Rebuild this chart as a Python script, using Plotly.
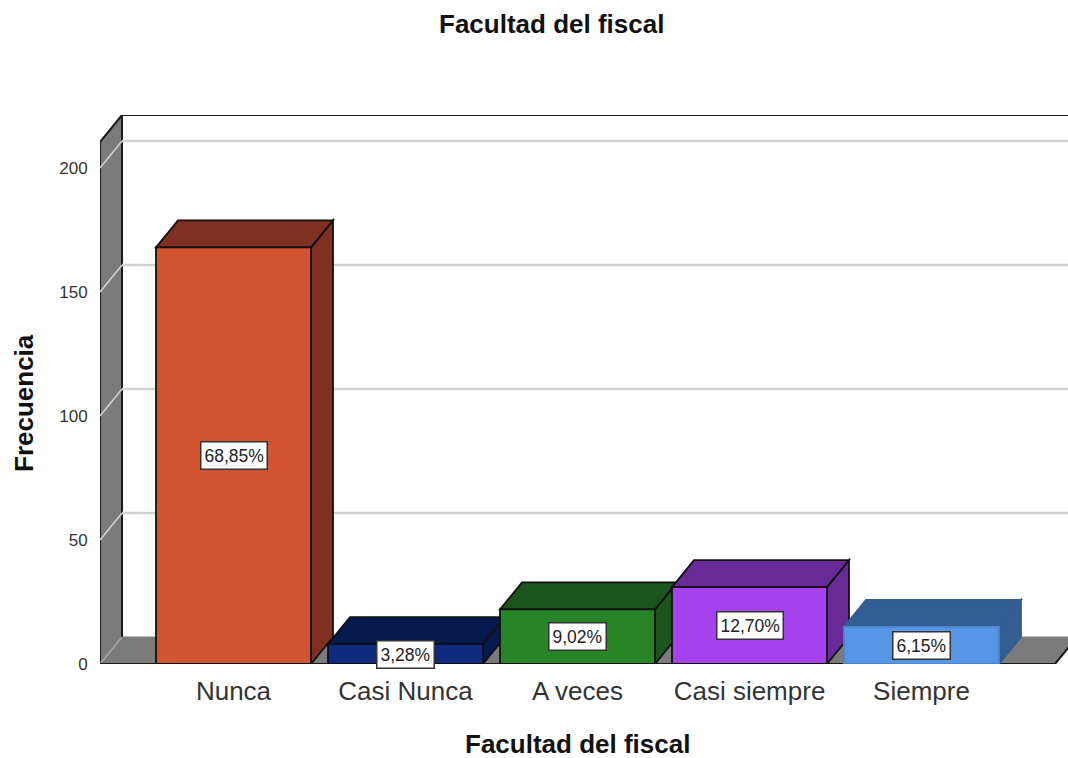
import plotly.graph_objects as go

categories = ["Nunca", "Casi Nunca", "A veces", "Casi siempre", "Siempre"]
frequencies = [168, 8, 22, 31, 15]
percent_labels = ["68,85%", "3,28%", "9,02%", "12,70%", "6,15%"]
y_ticks = [0, 50, 100, 150, 200]
chart_title = "Facultad del fiscal"
x_title = "Facultad del fiscal"
y_title = "Frecuencia"

front_colors = ["#D05430", "#0F2B80", "#278527", "#A742F0", "#5596E6"]
shade_colors = ["#7F3020", "#071A50", "#1B551B", "#682A96", "#335E92"]
edge_colors = ["#111111", "#111111", "#111111", "#111111", "#4A86CC"]
shade_edges = ["#111111", "#111111", "#111111", "#111111", "#335E92"]

# pixel geometry of the frame
W, H = 1068, 758
L, T, B = 100, 115, 664
UNIT_X = 172.0      # px per category
UNIT_Y = 2.48       # px per frequency
ORIGIN_X = 233.5    # px of first category centre
DX, DY = 22 / UNIT_X, 27 / UNIT_Y   # depth of the pseudo-3D extrusion
BAR = 155 / UNIT_X

x_min = (L - ORIGIN_X) / UNIT_X
x_max = (W - ORIGIN_X) / UNIT_X
y_max = (B - T) / UNIT_Y
y_front_top = y_max - DY
x_floor_end = (1055 - ORIGIN_X) / UNIT_X


def paper_x(px):
    return (px - L) / (W - L)


def paper_y(py):
    return (B - py) / (B - T)


def poly(points, fill, line, width=1.8):
    path = "M " + " L ".join(f"{x:.4f} {y:.4f}" for x, y in points) + " Z"
    return dict(type="path", xref="x", yref="y", layer="below", path=path,
                fillcolor=fill, line=dict(color=line, width=width))


def seg(x0, y0, x1, y1, color, width):
    return dict(type="line", xref="x", yref="y", layer="below", x0=x0, y0=y0, x1=x1, y1=y1,
                line=dict(color=color, width=width))


WALL = "#7B7B7B"
GRID = "#D2D2D2"
INK = "#1A1A1A"
shapes = [
    poly([(x_min, 0), (x_floor_end, 0), (x_floor_end + DX, DY), (x_min + DX, DY)], WALL, WALL, 1),
    poly([(x_min, 0), (x_min + DX, DY), (x_min + DX, y_max), (x_min, y_front_top)], WALL, WALL, 1),
    seg(x_min, 0, x_min, y_front_top, INK, 2),
    seg(x_min, y_front_top, x_min + DX, y_max, INK, 2),
    seg(x_min + DX, DY, x_min + DX, y_max, INK, 2),
    seg(x_min + DX, y_max, x_max + 1, y_max, INK, 2),
    seg(x_floor_end, 0, x_floor_end + DX, DY, INK, 2),
    seg(x_min, 0, x_min + DX, DY, "#A8A8A8", 1.5),
]
for t in y_ticks[1:]:
    shapes.append(seg(x_min + DX, t + DY, x_max + 1, t + DY, GRID, 2.5))
    shapes.append(seg(x_min, t, x_min + DX, t + DY, GRID, 1.5))
shapes.append(seg(x_min, 0, x_floor_end, 0, INK, 2))

for i, v in enumerate(frequencies):
    a, b = i - BAR / 2, i + BAR / 2
    shapes.append(poly([(b, 0), (b + DX, DY), (b + DX, v + DY), (b, v)], shade_colors[i], shade_edges[i]))
    shapes.append(poly([(a, v), (b, v), (b + DX, v + DY), (a + DX, v + DY)], shade_colors[i], shade_edges[i]))

fig = go.Figure(go.Bar(
    x=list(range(len(categories))), y=frequencies, width=BAR,
    marker=dict(color=front_colors, line=dict(color=edge_colors, width=1.8)),
    hoverinfo="x+y", showlegend=False,
))

annotations = [
    dict(x=i, y=v / 2, xref="x", yref="y", text=p, showarrow=False,
         font=dict(family="Liberation Sans", size=17.5, color="#222222"),
         bgcolor="white", bordercolor="#333333", borderwidth=1.5, borderpad=3)
    for i, (v, p) in enumerate(zip(frequencies, percent_labels))
]
bold = dict(family="Liberation Sans", size=26, color="#111111")
center = dict(xref="paper", yref="paper", showarrow=False, font=bold, xanchor="center", yanchor="middle")
annotations += [
    dict(x=paper_x(551), y=paper_y(24), text=f"<b>{chart_title}</b>", **center),
    dict(x=paper_x(577), y=paper_y(744), text=f"<b>{x_title}</b>", **center),
    dict(x=paper_x(24), y=paper_y(403), text=f"<b>{y_title}</b>", textangle=-90, **center),
]

fig.update_layout(
    width=W, height=H, autosize=False,
    margin=dict(l=L, r=0, t=T, b=H - B, pad=0),
    paper_bgcolor="white", plot_bgcolor="white",
    shapes=shapes, annotations=annotations,
    font=dict(family="Liberation Sans"),
    xaxis=dict(range=[x_min, x_max], tickmode="array", tickvals=list(range(len(categories))),
               ticktext=categories, showgrid=False, zeroline=False, showline=False,
               ticks="outside", ticklen=4, tickcolor="rgba(0,0,0,0)",
               tickfont=dict(family="Liberation Sans", size=26, color="#333333")),
    yaxis=dict(range=[0, y_max], tickmode="array", tickvals=y_ticks, showgrid=False,
               zeroline=False, showline=False, ticks="outside", ticklen=8,
               tickcolor="rgba(0,0,0,0)",
               tickfont=dict(family="Liberation Sans", size=17, color="#333333")),
)
fig.write_html("out.html", config={"displayModeBar": False},
               post_script="document.body.style.margin='0';document.documentElement.style.overflow='hidden';")
